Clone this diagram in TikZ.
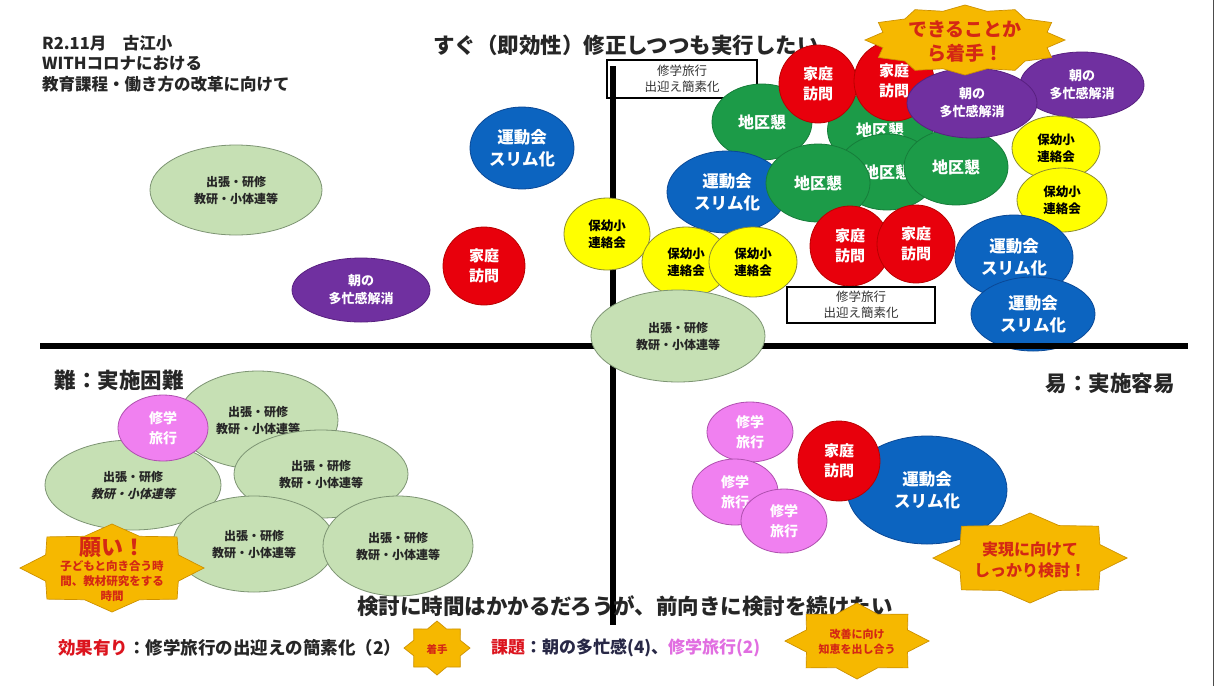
\documentclass[tikz,border=0pt]{standalone}
\usepackage{fontspec}
\setmainfont{Noto Sans CJK JP}
\newfontfamily\jpslant{Noto Sans CJK JP}[FakeSlant=0.22]
\usetikzlibrary{shapes.geometric}
\definecolor{cgreen}{RGB}{28,155,72}
\definecolor{cgreenD}{RGB}{22,125,58}
\definecolor{cred}{RGB}{232,0,12}
\definecolor{credD}{RGB}{185,0,0}
\definecolor{cblue}{RGB}{12,100,192}
\definecolor{cblueD}{RGB}{10,72,150}
\definecolor{cpurple}{RGB}{112,48,160}
\definecolor{cpurpleD}{RGB}{88,32,128}
\definecolor{cyellow}{RGB}{255,255,0}
\definecolor{cyellowD}{RGB}{140,140,50}
\definecolor{cgray}{RGB}{198,224,180}
\definecolor{cgrayD}{RGB}{125,148,115}
\definecolor{cpink}{RGB}{240,128,240}
\definecolor{cpinkD}{RGB}{175,80,175}
\definecolor{cburst}{RGB}{246,184,0}
\definecolor{cburstD}{RGB}{205,145,0}
\definecolor{cbtext}{RGB}{212,40,20}
\definecolor{clegred}{RGB}{220,20,30}
\definecolor{clegnavy}{RGB}{40,40,70}
\definecolor{clegpink}{RGB}{225,110,225}
\tikzset{
  sz/.style 2 args={minimum width=#1pt, minimum height=#2pt},
  blob/.style={ellipse, inner sep=0pt, align=center, line width=0.8pt},
  kon/.style={blob, fill=cgreen, draw=cgreenD, text=white, font=\bfseries\fontsize{16}{20}\selectfont},
  visit/.style={blob, fill=cred, draw=credD, text=white, font=\bfseries\fontsize{15}{20}\selectfont},
  sports/.style={blob, fill=cblue, draw=cblueD, text=white, font=\bfseries\fontsize{16.5}{22}\selectfont},
  morning/.style={blob, fill=cpurple, draw=cpurpleD, text=white, font=\bfseries\fontsize{13}{18}\selectfont},
  hoyo/.style={blob, fill=cyellow, draw=cyellowD, text=black, font=\bfseries\fontsize{12.5}{17}\selectfont},
  train/.style={blob, fill=cgray, draw=cgrayD, text=black!85, font=\bfseries\fontsize{12}{17}\selectfont},
  trip/.style={blob, fill=cpink, draw=cpinkD, text=white, font=\bfseries\fontsize{14}{20}\selectfont},
  note/.style={rectangle, draw=black, line width=1.8pt, fill=white, align=center, inner sep=0pt, text=black!80, font=\fontsize{12.5}{16}\selectfont},
  burst/.style={fill=cburst, draw=cburstD, line width=0.7pt},
  btext/.style={text=cbtext, align=center, inner sep=0pt},
  axisline/.style={line width=6pt, black},
  head/.style={text=black!85, inner sep=0pt, font=\bfseries\fontsize{21.5}{24}\selectfont}
}
\newcommand{\burstat}[6]{%
  \pgfmathsetmacro{\bstep}{180/#5}%
  \pgfmathtruncatemacro{\bn}{2*#5-1}%
  \filldraw[burst] ({#1+#3},{#2}) \foreach \k in {1,...,\bn}{ -- ({#1+(mod(\k,2)==0?1:#6)*#3*cos(\k*\bstep)},{#2+(mod(\k,2)==0?1:#6)*#4*sin(\k*\bstep)}) } -- cycle;
}
\begin{document}
\begin{tikzpicture}[x=1pt,y=-1pt]
\useasboundingbox (0,0) rectangle (1218,686);
\fill[white] (0,0) rectangle (1218,686);
\coordinate (edgeT) at (1213,0);
\coordinate (edgeB) at (1213,686);
\draw[black!70, line width=0.8pt] (edgeT) -- (edgeB);

% header texts
\node[anchor=north west, align=left, inner sep=0pt, text=black!85, font=\bfseries\fontsize{16.5}{20.5}\selectfont] (hdr) at (42,35) {R2.11月　古江小\\WITHコロナにおける\\教育課程・働き方の改革に向けて};
\node[head] (ttl) at (626,45) {すぐ（即効性）修正しつつも実行したい};

% box at the top of the vertical axis, then the vertical axis
\node[note, sz={150}{38}] (n1) at (682,79) {修学旅行\\出迎え簡素化};
\coordinate (vtop) at (613,66);
\coordinate (vbot) at (613,625);
\draw[axisline] (vtop) -- (vbot);

% top-left quadrant
\node[train, sz={172}{90}] (tl1) at (236,190) {出張・研修\\教研・小体連等};
\node[sports, sz={104}{82}] (tl2) at (522,148) {運動会\\スリム化};
\node[visit, sz={82}{78}] (tl3) at (484,266) {家庭\\訪問};
\node[morning, sz={138}{64}] (tl4) at (361,290) {朝の\\多忙感解消};

% top-right cluster
\node[kon, sz={105}{76}] (k2) at (880,130) {地区懇};
\node[kon, sz={100}{76}] (k4) at (887,172) {地区懇};
\node[kon, sz={100}{76}] (k1) at (762,122) {地区懇};
\node[kon, sz={104}{76}] (k5) at (956,167) {地区懇};
\node[visit, sz={78}{78}] (v1) at (818,84) {家庭\\訪問};
\node[visit, sz={80}{80}] (v2) at (894,81) {家庭\\訪問};
\node[morning, sz={124}{66}] (m2) at (1082,85) {朝の\\多忙感解消};
\node[morning, sz={130}{70}] (m1) at (972,103) {朝の\\多忙感解消};
\node[hoyo, sz={88}{64}] (h1) at (1056,148) {保幼小\\連絡会};
\node[hoyo, sz={90}{64}] (h2) at (1062,200) {保幼小\\連絡会};
\node[sports, sz={120}{82}] (s1) at (727,192) {運動会\\スリム化};
\node[kon, sz={104}{78}] (k3) at (818,183) {地区懇};
\node[visit, sz={80}{80}] (v3) at (850,246) {家庭\\訪問};
\node[visit, sz={78}{78}] (v4) at (916,244) {家庭\\訪問};
\node[sports, sz={118}{84}] (s2) at (1014,257) {運動会\\スリム化};
\node[sports, sz={124}{74}] (s3) at (1033,314) {運動会\\スリム化};
\node[hoyo, sz={86}{72}] (h3) at (607,234) {保幼小\\連絡会};
\node[hoyo, sz={88}{70}] (h4) at (686,262) {保幼小\\連絡会};
\node[hoyo, sz={88}{70}] (h5) at (753,262) {保幼小\\連絡会};
\node[note, sz={148}{36}] (n2) at (861,305) {修学旅行\\出迎え簡素化};

% horizontal axis
\coordinate (hleft) at (40,346);
\coordinate (hright) at (1188,346);
\draw[axisline] (hleft) -- (hright);

\node[train, sz={174}{92}] (tc) at (678,336) {出張・研修\\教研・小体連等};

% burst top
\burstat{965}{40}{100}{35}{12}{0.85}
\node[btext, font=\bfseries\fontsize{19}{24}\selectfont] (bt1) at (965,42) {できることか\\ら着手！};

% axis labels
\node[head] (lblL) at (119,380) {難：実施困難};
\node[head] (lblR) at (1110,383) {易：実施容易};

% bottom-left quadrant
\node[train, sz={160}{98}] (b1) at (258,420) {出張・研修\\教研・小体連等};
\node[train, sz={176}{90}] (b2) at (133,485) {出張・研修\\{\jpslant\bfseries 教研・小体連等}};
\node[train, sz={174}{88}] (b3) at (321,474) {出張・研修\\教研・小体連等};
\node[trip, sz={90}{66}] (p1) at (163,428) {修学\\旅行};
\node[train, sz={162}{96}] (b4) at (254,544) {出張・研修\\教研・小体連等};
\node[train, sz={150}{100}] (b5) at (398,546) {出張・研修\\教研・小体連等};
\burstat{112}{568}{92}{44}{8}{0.78}
\node[btext, font=\bfseries\fontsize{11.5}{15}\selectfont] (bt2) at (112,570) {\fontsize{22}{24}\selectfont 願い！\\\fontsize{11.5}{15}\selectfont 子どもと向き合う時\\間、教材研究をする\\時間};

% bottom-right quadrant
\node[trip, sz={86}{60}] (p2) at (750,432) {修学\\旅行};
\node[trip, sz={86}{66}] (p3) at (735,492) {修学\\旅行};
\node[trip, sz={86}{64}] (p4) at (784,521) {修学\\旅行};
\node[sports, sz={160}{108}] (s4) at (927,490) {運動会\\スリム化};
\node[visit, sz={82}{80}] (v5) at (839,461) {家庭\\訪問};
\burstat{1030}{558}{97}{45}{8}{0.78}
\node[btext, font=\bfseries\fontsize{16}{21}\selectfont] (bt3) at (1030,560) {実現に向けて\\しっかり検討！};

% bottom texts
\node[head] (btm) at (625,606) {検討に時間はかかるだろうが、前向きに検討を続けたい};
\node[anchor=west, inner sep=0pt, font=\bfseries\fontsize{17.5}{20}\selectfont, text=black!85] (leg1) at (58,648) {\textcolor{clegred}{効果有り}：修学旅行の出迎えの簡素化（2）};
\burstat{437}{648}{33}{27}{8}{0.76}
\node[btext, font=\bfseries\fontsize{10.5}{12}\selectfont] (bt4) at (437,649) {着手};
\node[anchor=west, inner sep=0pt, font=\bfseries\fontsize{17}{20}\selectfont, text=clegnavy] (leg2) at (491,648) {\textcolor{clegred}{課題}：朝の多忙感(4)、\textcolor{clegpink}{修学旅行(2)}};
\burstat{857}{641}{72}{38}{8}{0.76}
\node[btext, font=\bfseries\fontsize{11}{15}\selectfont] (bt5) at (857,642) {改善に向け\\知恵を出し合う};
\end{tikzpicture}
\end{document}
